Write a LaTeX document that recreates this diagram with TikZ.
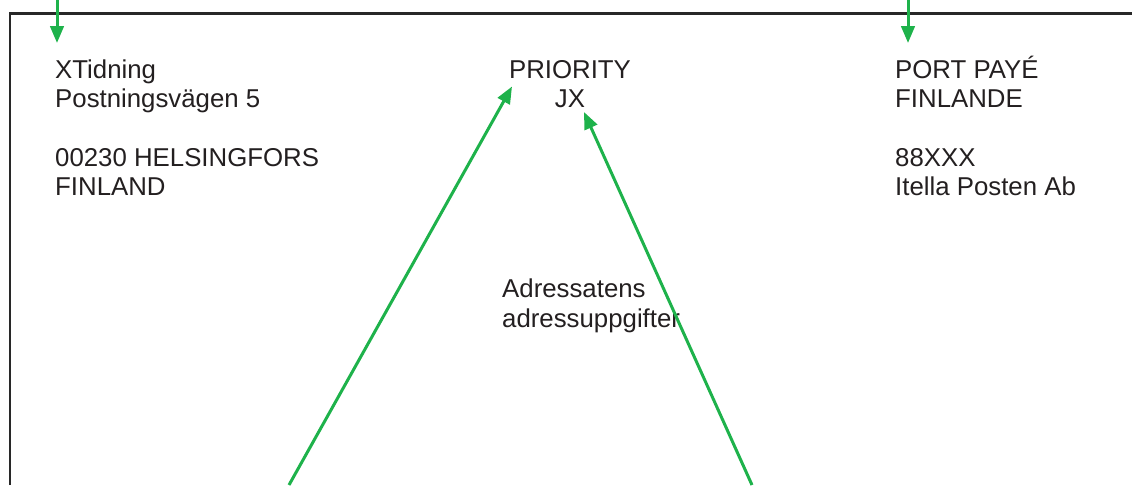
\documentclass[tikz,border=0pt]{standalone}
\usepackage{fontspec}
\setmainfont{Liberation Sans}
\usetikzlibrary{arrows.meta}
\definecolor{arrowgreen}{RGB}{30,178,75}
\definecolor{framegray}{RGB}{40,40,40}
\definecolor{textgray}{RGB}{35,31,32}
\begin{document}
\begin{tikzpicture}[x=1pt,y=-1pt,
  frame/.style={draw=framegray,line width=2.6pt},
  label/.style={inner sep=0pt,align=left,text=textgray,font=\fontsize{25.8}{29.2}\selectfont},
  clabel/.style={inner sep=0pt,align=center,text=textgray,font=\fontsize{25.8}{29}\selectfont},
  pointer/.style={draw=arrowgreen,line width=3pt,-{Triangle[length=17pt,width=13.5pt]}}]
\useasboundingbox (0,0) rectangle (1132,485);
% frame
\draw[frame] (10,485) -- (10,13.3) -- (1132,13.3);
% texts (anchored at the baseline of their last line)
\node[label,anchor=base west] (sender) at (55,195.5)
  {XTidning\\Postningsvägen 5\\[29.2pt]00230 HELSINGFORS\\FINLAND};
\node[clabel,anchor=base] (prio) at (570,107.5)
  {PRIORITY\\JX};
\node[label,anchor=base west] (port) at (895,195.5)
  {PORT PAYÉ\\FINLANDE\\[29.2pt]88XXX\\Itella Posten Ab};
\node[label,anchor=base west] (recv) at (502,327)
  {Adressatens\\adressuppgifter};
% arrows
\coordinate (s1) at (57,0);
\coordinate (t1) at (57,43);
\coordinate (s2) at (908,0);
\coordinate (t2) at (908,43);
\coordinate (s3) at (289,485);
\coordinate (t3) at (512,86.5);
\coordinate (s4) at (752,485);
\coordinate (t4) at (584,112);
\draw[pointer] (s1) -- (t1);
\draw[pointer] (s2) -- (t2);
\draw[pointer] (s3) -- (t3);
\draw[pointer] (s4) -- (t4);
\end{tikzpicture}
\end{document}
